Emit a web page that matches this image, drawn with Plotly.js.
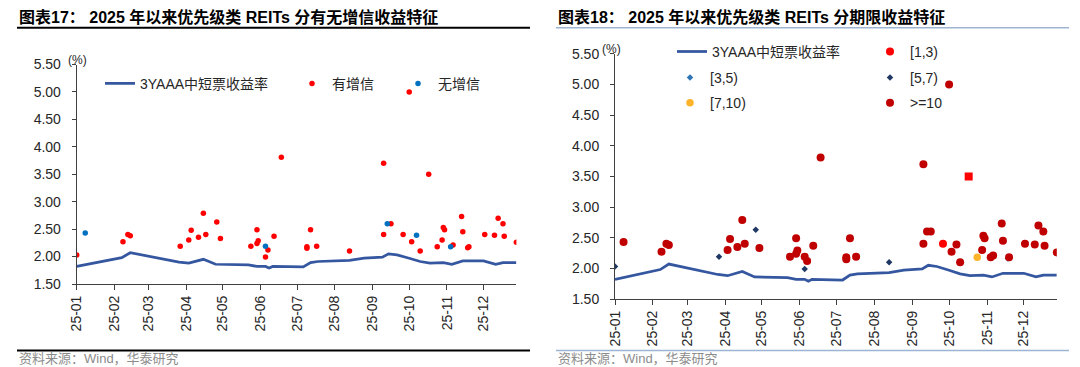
<!DOCTYPE html>
<html><head><meta charset="utf-8">
<script src="https://cdn.plot.ly/plotly-3.0.1.min.js"></script>
<style>html,body{margin:0;padding:0;background:#fff;}#chart{width:1080px;height:367px;}</style>
</head><body><div id="chart"></div>
<script>
// 3YAAA中短票收益率 (%)
const yieldDates = ['2025-01-01','2025-01-12','2025-02-07','2025-02-14','2025-03-26','2025-04-03','2025-04-12','2025-04-15','2025-04-25','2025-05-22','2025-05-29','2025-06-05','2025-06-08','2025-06-11','2025-07-06','2025-07-12','2025-07-18','2025-08-13','2025-08-25','2025-09-09','2025-09-14','2025-09-21','2025-10-01','2025-10-06','2025-10-10','2025-10-18','2025-10-25','2025-10-29','2025-11-05','2025-11-14','2025-12-01','2025-12-11','2025-12-17','2025-12-28'];
const yieldValues = [1.82,1.87,1.98,2.07,1.90,1.88,1.94,1.95,1.86,1.85,1.82,1.82,1.79,1.82,1.81,1.89,1.91,1.93,1.97,1.99,2.05,2.03,1.97,1.93,1.91,1.88,1.88,1.89,1.86,1.92,1.92,1.86,1.89,1.89];

// 图表17: 有增信 / 无增信
const withGuarDates = ['2025-01-01','2025-02-08','2025-02-12','2025-02-14','2025-03-27','2025-04-03','2025-04-05','2025-04-11','2025-04-15','2025-04-17','2025-04-26','2025-04-29','2025-05-24','2025-05-29','2025-05-29','2025-05-30','2025-06-05','2025-06-07','2025-06-12','2025-06-18','2025-07-09','2025-07-09','2025-07-12','2025-07-17','2025-08-13','2025-09-10','2025-09-10','2025-09-16','2025-09-26','2025-10-01','2025-10-03','2025-10-10','2025-10-17','2025-10-24','2025-10-28','2025-10-29','2025-10-30','2025-11-06','2025-11-13','2025-11-14','2025-11-18','2025-11-19','2025-12-02','2025-12-10','2025-12-13','2025-12-17','2025-12-18','2025-12-28'];
const withGuarValues = [2.03,2.27,2.40,2.38,2.19,2.30,2.48,2.35,2.79,2.40,2.63,2.33,2.19,2.49,2.24,2.29,1.99,2.12,2.37,3.81,2.18,2.15,2.49,2.19,2.10,3.70,2.40,2.60,2.40,5.00,2.27,2.10,3.50,2.18,2.30,2.53,2.49,2.21,2.73,2.45,2.16,2.18,2.40,2.39,2.70,2.60,2.37,2.26];
const noGuarDates = ['2025-01-08','2025-06-05','2025-09-13','2025-10-07','2025-11-04'];
const noGuarValues = [2.43,2.19,2.60,2.39,2.18];

// 图表18: 分期限
const t1to3Dates = ['2025-09-26','2025-10-17'];
const t1to3Values = [2.40,3.50];
const t1to3Symbols = ['circle','square'];
const t3to5Dates = ['2025-11-18'];
const t3to5Values = [2.16];
const t5to7Dates = ['2025-01-01','2025-03-27','2025-04-26','2025-06-05','2025-08-13'];
const t5to7Values = [2.03,2.19,2.63,1.99,2.10];
const t7to10Dates = ['2025-10-24'];
const t7to10Values = [2.18];
const t10plusDates = ['2025-01-08','2025-02-08','2025-02-12','2025-02-14','2025-04-03','2025-04-05','2025-04-11','2025-04-15','2025-04-17','2025-04-29','2025-05-24','2025-05-29','2025-05-29','2025-05-30','2025-06-05','2025-06-07','2025-06-12','2025-06-18','2025-07-09','2025-07-09','2025-07-12','2025-07-17','2025-09-10','2025-09-10','2025-09-13','2025-09-16','2025-10-01','2025-10-03','2025-10-07','2025-10-10','2025-10-28','2025-10-29','2025-10-30','2025-11-04','2025-11-06','2025-11-13','2025-11-14','2025-11-19','2025-12-02','2025-12-10','2025-12-13','2025-12-17','2025-12-18','2025-12-28'];
const t10plusValues = [2.43,2.27,2.40,2.38,2.30,2.48,2.35,2.79,2.40,2.33,2.19,2.49,2.24,2.29,2.19,2.12,2.37,3.81,2.18,2.15,2.49,2.19,3.70,2.40,2.60,2.60,5.00,2.27,2.39,2.10,2.30,2.53,2.49,2.18,2.21,2.73,2.45,2.18,2.40,2.39,2.70,2.60,2.37,2.26];

const monthTicks = ['2025-01-01','2025-02-01','2025-03-01','2025-04-01','2025-05-01','2025-06-01','2025-07-01','2025-08-01','2025-09-01','2025-10-01','2025-11-01','2025-12-01'];
const monthLabels = ['25-01','25-02','25-03','25-04','25-05','25-06','25-07','25-08','25-09','25-10','25-11','25-12'];
const yTicks = [1.5,2.0,2.5,3.0,3.5,4.0,4.5,5.0,5.5];
const yLabels = ['1.50','2.00','2.50','3.00','3.50','4.00','4.50','5.00','5.50'];

const FONT = 'Liberation Sans, Arial, Noto Sans CJK SC, sans-serif';
const W = 1080, H = 367;
const px = v => v / W;
const py = v => 1 - v / H;
const LINE_COLOR = '#3557A0';

const traces = [
  {x: yieldDates, y: yieldValues, type:'scatter', mode:'lines', name:'3YAAA中短票收益率', line:{color:LINE_COLOR, width:2.75}, xaxis:'x', yaxis:'y', legend:'legend'},
  {x: withGuarDates, y: withGuarValues, type:'scatter', mode:'markers', name:'有增信', marker:{color:'#FF0000', size:5.5}, xaxis:'x', yaxis:'y', legend:'legend2'},
  {x: noGuarDates, y: noGuarValues, type:'scatter', mode:'markers', name:'无增信', marker:{color:'#0070C0', size:5.5}, xaxis:'x', yaxis:'y', legend:'legend3'},
  {x: yieldDates, y: yieldValues, type:'scatter', mode:'lines', name:'3YAAA中短票收益率', line:{color:LINE_COLOR, width:2.75}, xaxis:'x2', yaxis:'y2', legend:'legend4'},
  {x: t1to3Dates, y: t1to3Values, type:'scatter', mode:'markers', name:'[1,3)', marker:{color:'#FF0000', size:8, symbol:t1to3Symbols}, xaxis:'x2', yaxis:'y2', legend:'legend5'},
  {x: t3to5Dates, y: t3to5Values, type:'scatter', mode:'markers', name:'[3,5)', marker:{color:'#2E75B6', size:5, symbol:'diamond'}, xaxis:'x2', yaxis:'y2', legend:'legend6'},
  {x: t5to7Dates, y: t5to7Values, type:'scatter', mode:'markers', name:'[5,7)', marker:{color:'#1F3864', size:5, symbol:'diamond'}, xaxis:'x2', yaxis:'y2', legend:'legend7'},
  {x: t7to10Dates, y: t7to10Values, type:'scatter', mode:'markers', name:'[7,10)', marker:{color:'#FDB42A', size:7.5}, xaxis:'x2', yaxis:'y2', legend:'legend8'},
  {x: t10plusDates, y: t10plusValues, type:'scatter', mode:'markers', name:'>=10', marker:{color:'#C00000', size:8}, xaxis:'x2', yaxis:'y2', legend:'legend9'}
];

const axisColor = '#404040';
const tickFont = {family: FONT, size: 14, color: '#262626'};
function xAxis(domain, anchor) {
  return {domain: domain, anchor: anchor, type:'date', range:['2025-01-01','2025-12-28'],
    tickmode:'array', tickvals: monthTicks, ticktext: monthLabels, tickangle:-90,
    ticks:'outside', ticklen:5, tickcolor:axisColor, showline:true, linecolor:axisColor, linewidth:1,
    showgrid:false, zeroline:false, tickfont: tickFont, fixedrange:true};
}
function yAxis(domain, anchor) {
  return {domain: domain, anchor: anchor, range:[1.5,5.5], tickmode:'array', tickvals:yTicks, ticktext:yLabels,
    ticks:'outside', ticklen:4, tickcolor:axisColor, showline:true, linecolor:axisColor, linewidth:1,
    showgrid:false, zeroline:false, tickfont: tickFont, ticklabelstandoff: 8, fixedrange:true};
}
function leg(x, y) {
  return {x: px(x), y: py(y), xanchor:'left', yanchor:'middle', orientation:'v', bgcolor:'rgba(0,0,0,0)', borderwidth:0,
    font:{family: FONT, size:14, color:'#262626'}};
}

const layout = {
  width: W, height: H, margin:{l:0, r:0, t:0, b:0}, paper_bgcolor:'#fff', plot_bgcolor:'#fff',
  showlegend: true,
  xaxis: xAxis([px(76.7), px(516.4)], 'y'),
  yaxis: yAxis([py(284), py(64.5)], 'x'),
  xaxis2: xAxis([px(615), px(1056.8)], 'y2'),
  yaxis2: yAxis([py(299), py(53.8)], 'x2'),
  legend: leg(100, 83.8),
  legend2: leg(292, 83.8),
  legend3: leg(398, 83.8),
  legend4: leg(672, 51.9),
  legend5: leg(870, 51.9),
  legend6: leg(670, 77.9),
  legend7: leg(870, 77.9),
  legend8: leg(670, 103.1),
  legend9: leg(870, 103.1),
  annotations: [
    {xref:'paper', yref:'paper', x:px(17), y:py(17), xanchor:'left', yanchor:'middle', showarrow:false,
      text:'<b>图表17：\u00a02025 年以来优先级类 REITs 分有无增信收益特征</b>', font:{family:FONT, size:16, color:'#000'}},
    {xref:'paper', yref:'paper', x:px(556), y:py(17), xanchor:'left', yanchor:'middle', showarrow:false,
      text:'<b>图表18：\u00a02025 年以来优先级类 REITs 分期限收益特征</b>', font:{family:FONT, size:16, color:'#000'}},
    {xref:'paper', yref:'paper', x:px(77), y:py(59.5), xanchor:'center', yanchor:'middle', showarrow:false,
      text:'(%)', font:{family:FONT, size:12, color:'#262626'}},
    {xref:'paper', yref:'paper', x:px(611), y:py(48.5), xanchor:'center', yanchor:'middle', showarrow:false,
      text:'(%)', font:{family:FONT, size:12, color:'#262626'}},
    {xref:'paper', yref:'paper', x:px(17), y:py(358.5), xanchor:'left', yanchor:'middle', showarrow:false,
      text:'资料来源：Wind，华泰研究', font:{family:FONT, size:13, color:'#8C8C8C'}},
    {xref:'paper', yref:'paper', x:px(556), y:py(358.5), xanchor:'left', yanchor:'middle', showarrow:false,
      text:'资料来源：Wind，华泰研究', font:{family:FONT, size:13, color:'#8C8C8C'}}
  ],
  shapes: [
    {type:'line', xref:'paper', yref:'paper', x0:px(17), x1:px(530), y0:py(27.7), y1:py(27.7), line:{color:'#000', width:2}},
    {type:'line', xref:'paper', yref:'paper', x0:px(556), x1:px(1069), y0:py(27.7), y1:py(27.7), line:{color:'#9DB5D3', width:1.5}},
    {type:'line', xref:'paper', yref:'paper', x0:px(17), x1:px(530), y0:py(350.5), y1:py(350.5), line:{color:'#000', width:2}},
    {type:'line', xref:'paper', yref:'paper', x0:px(556), x1:px(1069), y0:py(350.5), y1:py(350.5), line:{color:'#9DB5D3', width:1.5}}
  ]
};

Plotly.newPlot('chart', traces, layout, {displayModeBar:false, staticPlot:true});
</script>
</body></html>
